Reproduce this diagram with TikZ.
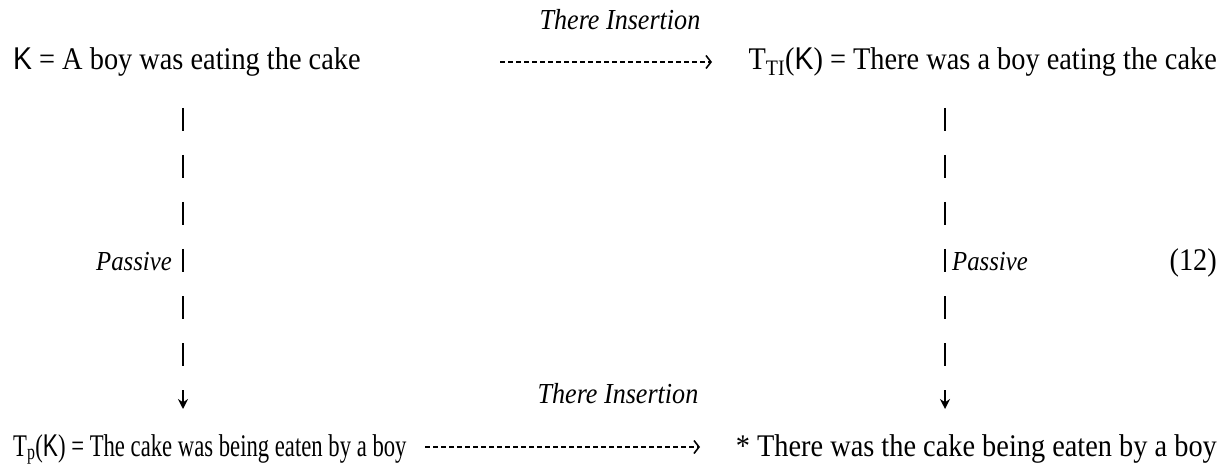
\documentclass[tikz,border=0pt]{standalone}
\usepackage{fontspec}
\setmainfont{Liberation Serif}[FakeStretch=0.9]
\newfontfamily\ksans{Liberation Sans}[FakeStretch=0.9]
\usetikzlibrary{arrows.meta}
\begin{document}
\begin{tikzpicture}[x=1pt,y=-1pt,
  txt/.style={inner sep=0pt, font=\fontsize{31.5}{34}\selectfont},
  lbl/.style={inner sep=0pt, font=\fontsize{29}{32}\selectfont\itshape},
  harrow/.style={line width=1.4pt, dash pattern=on 5pt off 3pt, -{Straight Barb[length=5pt,width=13pt,line width=1.6pt]}},
  varrow/.style={line width=2.4pt, dash pattern=on 23pt off 24pt, -{Stealth[length=10pt,width=10pt]}}]
\useasboundingbox (0,0) rectangle (1220,470);
% rows
\node[txt, anchor=base west] (k) at (13,70) {{\ksans K} = A boy was eating the cake};
\node[txt, anchor=base east] (tti) at (1217,70) {T\textsubscript{TI}({\ksans K}) = There was a boy eating the cake};
\node[txt, anchor=base west] (tp) at (13,456) {\scalebox{0.8}[1]{T\textsubscript{p}({\ksans K}) = The cake was being eaten by a boy}};
\node[txt, anchor=base east] (star) at (1217,456) {* There was the cake being eaten by a boy};
% labels
\node[lbl, anchor=base] (ti1) at (620,30) {There Insertion};
\node[lbl, anchor=base] (ti2) at (618,403) {There Insertion};
\node[lbl, anchor=base east, font=\fontsize{27.5}{30}\selectfont\itshape] (pl) at (172,271) {Passive};
\node[lbl, anchor=base west, font=\fontsize{27.5}{30}\selectfont\itshape] (pr) at (952,271) {Passive};
\node[txt, anchor=base east] (num) at (1217,271) {(12)};
% connectors
\coordinate (h1s) at (500,62);
\coordinate (h1e) at (712,62);
\coordinate (h2s) at (425,447);
\coordinate (h2e) at (700,447);
\coordinate (v1s) at (183,108);
\coordinate (v1e) at (183,409);
\coordinate (v2s) at (945,108);
\coordinate (v2e) at (945,409);
\draw[harrow] (h1s) -- (h1e);
\draw[harrow] (h2s) -- (h2e);
\draw[varrow] (v1s) -- (v1e);
\draw[varrow] (v2s) -- (v2e);
\end{tikzpicture}
\end{document}
